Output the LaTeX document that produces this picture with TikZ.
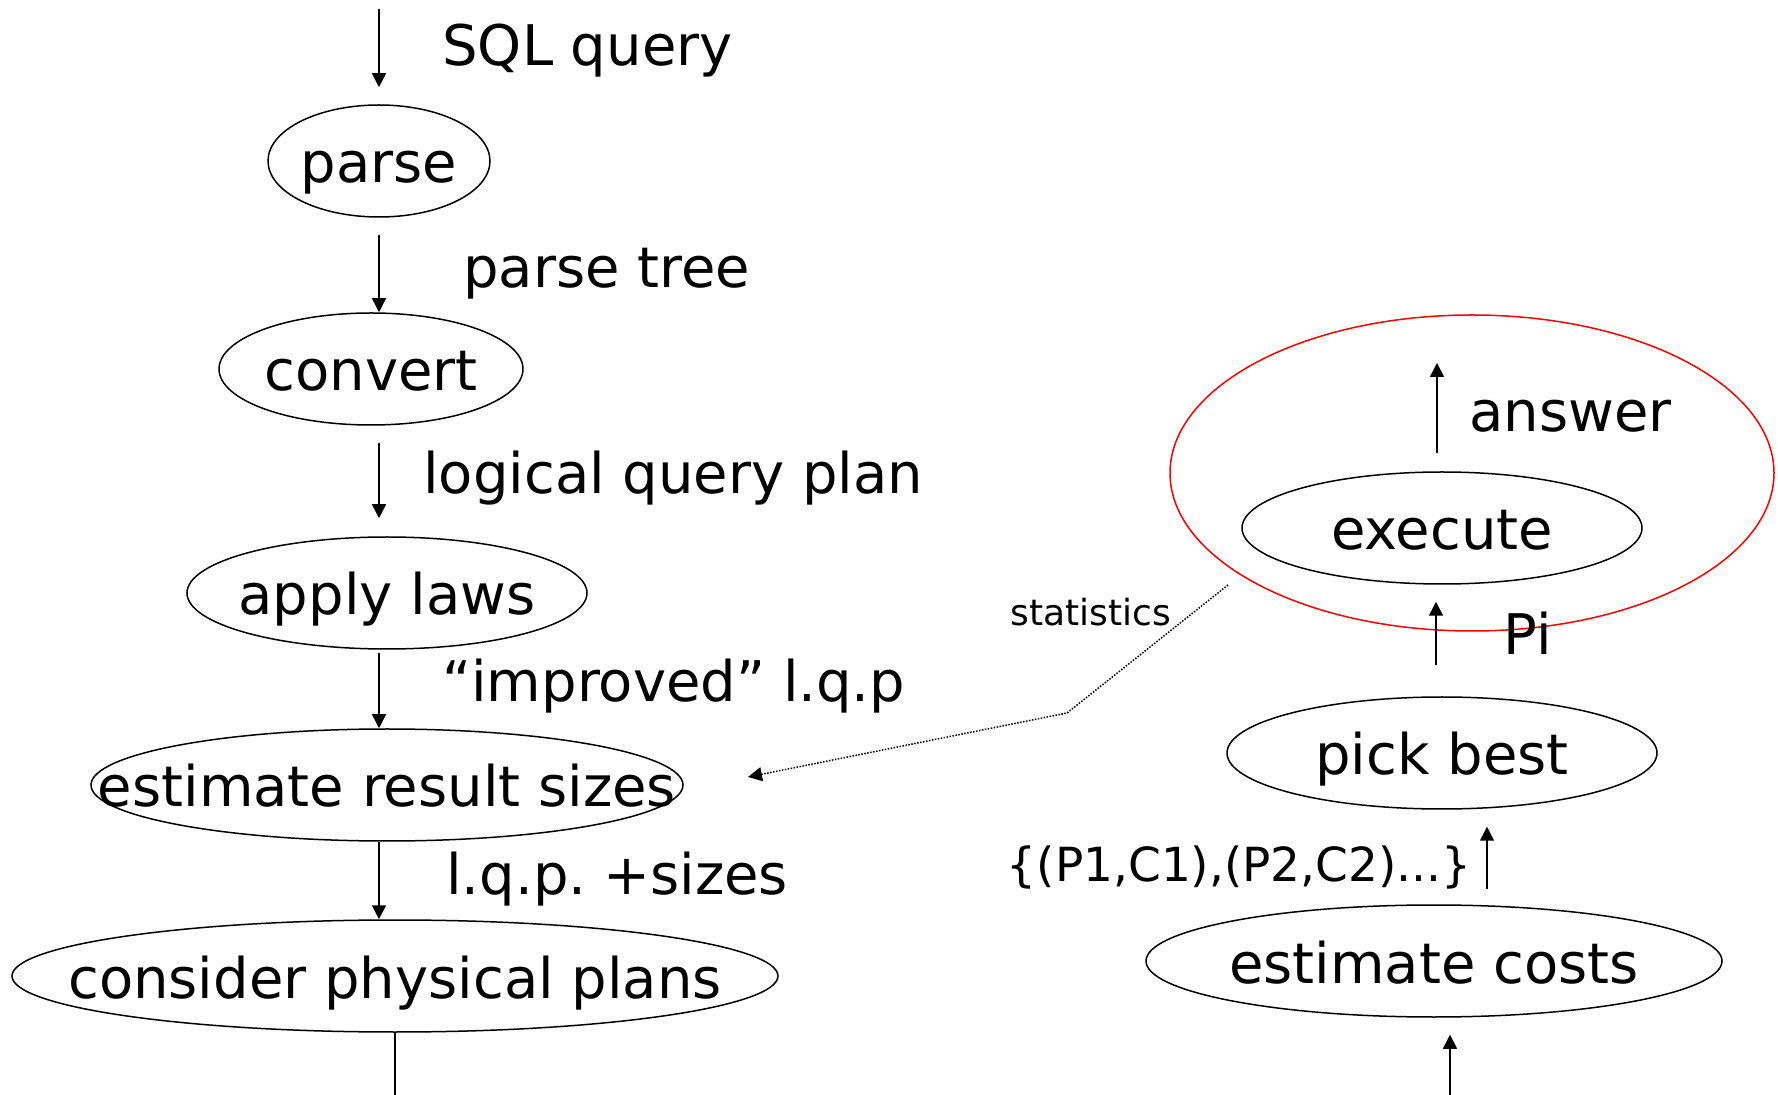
\documentclass[tikz,border=0pt]{standalone}
\usepackage{fontspec}
\setmainfont{DejaVu Sans}
\usetikzlibrary{shapes.geometric,arrows.meta}
\begin{document}
\begin{tikzpicture}[x=0.5pt,y=-0.5pt,
  every node/.style={font=\fontsize{28}{33}\selectfont,text height=21pt,text depth=5.6pt},
  ell/.style={ellipse,draw,line width=0.75pt,inner sep=0pt,minimum height=56pt,text height=24.3pt,text depth=2.3pt},
  lbl/.style={anchor=west,inner sep=0pt},
  flow/.style={line width=0.75pt,-{Triangle[width=7pt,length=7pt]}},
  dotline/.style={line width=0.75pt,dash pattern=on 0.75pt off 0.75pt,-{Triangle[width=7pt,length=7pt]}}]
\useasboundingbox (0,0) rectangle (1778,1095);
% left column
\coordinate (lx) at (379,0);
\coordinate (sqtop) at (379,9);
\node[lbl] (sql) at (442,50) {SQL query};
\node[ell,minimum width=111pt] (parse) at (379,161) {\makebox[0pt]{parse}};
\node[lbl] (ptree) at (463,272) {parse tree};
\node[ell,minimum width=152pt] (convert) at (371,369) {\makebox[0pt]{convert}};
\node[lbl] (lqp) at (423,478) {logical query plan};
\node[ell,minimum width=200pt] (apply) at (387,593) {\makebox[0pt]{apply laws}};
\node[lbl] (impr) at (442,686) {“improved” l.q.p};
\node[ell,minimum width=296pt] (est) at (387,785) {\makebox[0pt]{estimate result sizes}};
\node[lbl] (lqps) at (446,879) {l.q.p.\hspace{-0.12em} +sizes};
\node[ell,minimum width=383pt] (phys) at (395,976) {\makebox[0pt]{consider physical plans}};
\coordinate (physout) at (395,1095);
\draw[flow,shorten >=8.5pt] (sqtop) -- (parse.north -| sqtop);
\draw[flow,shorten <=8.5pt] (parse.south -| lx) -- (convert.north -| lx);
\draw[flow,shorten <=8.5pt,shorten >=9pt] (convert.south -| lx) -- (apply.north -| lx);
\draw[flow,shorten <=1.5pt] (apply.south -| lx) -- (est.north -| lx);
\draw[flow] (est.south -| lx) -- (phys.north -| lx);
\draw[line width=0.75pt] (phys.south) -- (physout);
% right column
\node[ell,draw=red,minimum width=302pt,minimum height=158pt] (redring) at (1472,473) {};
\node[ell,minimum width=200pt] (exec) at (1442,528) {\makebox[0pt]{execute}};
\coordinate (ans) at (1437,363);
\draw[flow,shorten <=9pt] (exec.north -| ans) -- (ans);
\node[lbl] (answer) at (1469,416) {answer};
\node[ell,minimum width=215pt] (pick) at (1442,753) {\makebox[0pt]{pick best}};
\coordinate (pix) at (1436,0);
\draw[flow,shorten <=15.5pt,shorten >=8.5pt] (pick.north -| pix) -- (exec.south -| pix);
\node[lbl] (pi) at (1503,639) {Pi};
\node[ell,minimum width=288pt] (cost) at (1434,961) {\makebox[0pt]{estimate costs}};
\coordinate (px) at (1487,0);
\draw[flow,shorten <=7.5pt,shorten >=8.5pt] (cost.north -| px) -- (pick.south -| px);
\node[lbl,anchor=east,font=\fontsize{23.5}{28}\selectfont,text height=17.6pt,text depth=4.7pt] (pc) at (1472,869) {\{(P1,C1),(P2,C2)...\}};
\coordinate (costin) at (1450,1095);
\draw[flow,shorten >=8.5pt] (costin) -- (cost.south -| costin);
% statistics
\node[lbl,font=\fontsize{18}{22}\selectfont,text height=13.5pt,text depth=3.6pt] (stat) at (1010,616) {statistics};
\coordinate (s1) at (1228,585);
\coordinate (s2) at (1067,713);
\coordinate (s3) at (748,777);
\draw[dotline] (s1) -- (s2) -- (s3);
\end{tikzpicture}
\end{document}
